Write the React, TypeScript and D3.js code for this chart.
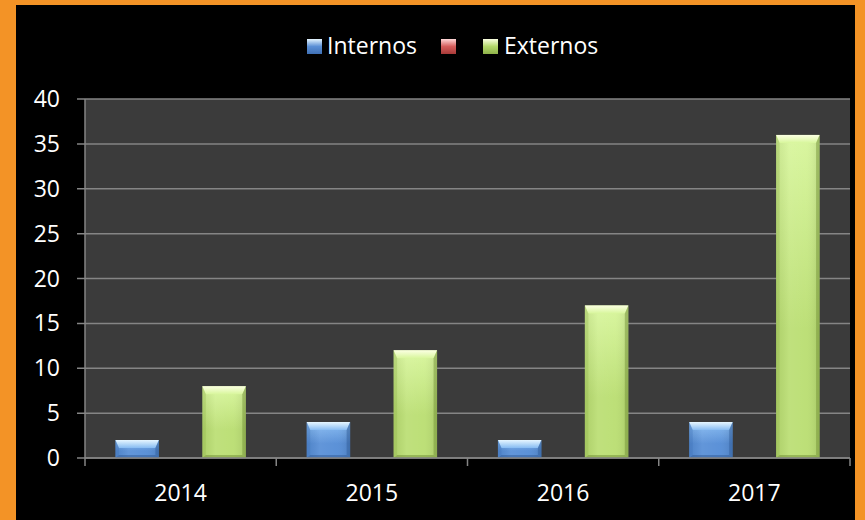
import React from "react";
import * as d3 from "d3";

const categories = ["2014", "2015", "2016", "2017"];
const seriesNames = ["Internos", "", "Externos"];
const internos = [2, 4, 2, 4];
const unnamed = [0, 0, 0, 0];
const externos = [8, 12, 17, 36];
const yTicks = [0, 5, 10, 15, 20, 25, 30, 35, 40];

const seriesValues = [internos, unnamed, externos];
const seriesKeys = ["blue", "red", "green"];

const W = 865;
const H = 520;
const plot = { left: 85, right: 850, top: 99, bottom: 458 };
const FONT = "'Open Sans', 'Noto Sans', sans-serif";

const palette: Record<string, { edge: string; mid: string; light: string; top: string; dark: string; sw: string }> = {
  blue: { edge: "#3f70b5", mid: "#558dd6", light: "#86bbf2", top: "#e6f6ff", dark: "#2f5a96", sw: "#5a8fd6" },
  red: { edge: "#a83a38", mid: "#d25a58", light: "#e07a78", top: "#ffd8d8", dark: "#8a2e2c", sw: "#d45d5b" },
  green: { edge: "#8fb24a", mid: "#bade72", light: "#d8f69c", top: "#fbffe2", dark: "#6f8e34", sw: "#b3d86a" },
};

export default function App() {
  const x0 = d3.scaleBand<string>().domain(categories).range([plot.left, plot.right]).paddingInner(0).paddingOuter(0);
  const x1 = d3
    .scaleBand<string>()
    .domain(seriesKeys)
    .range([0, x0.bandwidth()])
    .paddingInner(0)
    .paddingOuter(0.7);
  const y = d3.scaleLinear().domain([0, 40]).range([plot.bottom, plot.top]);

  const bars: JSX.Element[] = [];
  seriesKeys.forEach((k, si) => {
    seriesValues[si].forEach((v, ci) => {
      if (!v) return;
      const bx = (x0(categories[ci]) as number) + (x1(k) as number);
      const bw = x1.bandwidth();
      const by = y(v);
      const bh = y(0) - by;
      const bev = Math.min(8, bh / 2);
      const side = 3.5;
      const p = palette[k];
      bars.push(
        <g key={`${k}-${ci}`}>
          <rect x={bx} y={by} width={bw} height={bh} fill={`url(#body-${k})`} />
          <rect x={bx} y={by} width={bw} height={bh} fill={`url(#shade-${k})`} />
          <polygon
            points={`${bx},${by} ${bx + bw},${by} ${bx + bw - side},${by + bev} ${bx + side},${by + bev}`}
            fill={`url(#top-${k})`}
          />
          <polygon
            points={`${bx},${by} ${bx + side},${by + bev} ${bx + side},${by + bh - 3} ${bx},${by + bh}`}
            fill={p.edge}
            opacity={0.3}
          />
          <polygon
            points={`${bx + bw},${by} ${bx + bw - side},${by + bev} ${bx + bw - side},${by + bh - 3} ${bx + bw},${by + bh}`}
            fill={p.dark}
            opacity={0.45}
          />
          <polygon
            points={`${bx},${by + bh} ${bx + side},${by + bh - 3} ${bx + bw - side},${by + bh - 3} ${bx + bw},${by + bh}`}
            fill={p.dark}
            opacity={0.5}
          />
        </g>
      );
    });
  });

  const legendItems = [
    { key: "blue", label: seriesNames[0], sx: 307, tx: 327 },
    { key: "red", label: seriesNames[1], sx: 441, tx: 461 },
    { key: "green", label: seriesNames[2], sx: 483, tx: 504 },
  ];

  return (
    <svg width={W} height={H} style={{ position: "absolute", left: 0, top: 0 }} fontFamily={FONT}>
      <defs>
        {seriesKeys.map((k) => {
          const p = palette[k];
          return (
            <React.Fragment key={k}>
              <linearGradient id={`body-${k}`} x1="0" y1="0" x2="0" y2="1">
                <stop offset="0" stopColor={p.light} />
                <stop offset="0.6" stopColor={p.mid} />
                <stop offset="1" stopColor={p.mid} />
              </linearGradient>
              <linearGradient id={`shade-${k}`} x1="0" y1="0" x2="1" y2="0">
                <stop offset="0" stopColor="#000" stopOpacity={0.06} />
                <stop offset="0.3" stopColor="#fff" stopOpacity={0.08} />
                <stop offset="0.7" stopColor="#fff" stopOpacity={0.04} />
                <stop offset="1" stopColor="#000" stopOpacity={0.1} />
              </linearGradient>
              <linearGradient id={`top-${k}`} x1="0" y1="0" x2="0" y2="1">
                <stop offset="0" stopColor={p.top} />
                <stop offset="1" stopColor={p.light} />
              </linearGradient>
              <linearGradient id={`sw-${k}`} x1="0" y1="0" x2="0" y2="1">
                <stop offset="0" stopColor={p.top} />
                <stop offset="0.5" stopColor={p.sw} />
                <stop offset="1" stopColor={p.edge} />
              </linearGradient>
            </React.Fragment>
          );
        })}
      </defs>
      <rect x={0} y={0} width={W} height={H} fill="#f39326" />
      <rect x={16} y={5} width={839} height={515} fill="#000000" />
      <rect x={plot.left} y={plot.top} width={plot.right - plot.left} height={plot.bottom - plot.top} fill="#3b3b3b" />
      {yTicks.map((t) => (
        <g key={t}>
          <line x1={plot.left - 8} x2={plot.right} y1={y(t)} y2={y(t)} stroke="#858585" strokeWidth={1.5} />
          <text x={60} y={y(t)} dy="0.35em" textAnchor="end" fill="#ffffff" fontSize={23}>
            {t}
          </text>
        </g>
      ))}
      <line x1={plot.left} x2={plot.left} y1={plot.top} y2={plot.bottom} stroke="#858585" strokeWidth={1.5} />
      {bars}
      <line x1={plot.left} x2={plot.right} y1={plot.bottom} y2={plot.bottom} stroke="#858585" strokeWidth={1.5} />
      {categories.map((c) => (
        <line key={`t${c}`} x1={x0(c)} x2={x0(c)} y1={plot.bottom} y2={plot.bottom + 8} stroke="#858585" strokeWidth={1.5} />
      ))}
      <line x1={plot.right} x2={plot.right} y1={plot.bottom} y2={plot.bottom + 8} stroke="#858585" strokeWidth={1.5} />
      {categories.map((c) => (
        <text
          key={`l${c}`}
          x={(x0(c) as number) + x0.bandwidth() / 2}
          y={501}
          textAnchor="middle"
          fill="#ffffff"
          fontSize={23}
        >
          {c}
        </text>
      ))}
      {legendItems.map((it) => (
        <g key={it.key}>
          <rect x={it.sx} y={39} width={15} height={15} fill={`url(#sw-${it.key})`} />
          {it.label ? (
            <text x={it.tx} y={46} dy="0.35em" fill="#ffffff" fontSize={23}>
              {it.label}
            </text>
          ) : null}
        </g>
      ))}
    </svg>
  );
}
